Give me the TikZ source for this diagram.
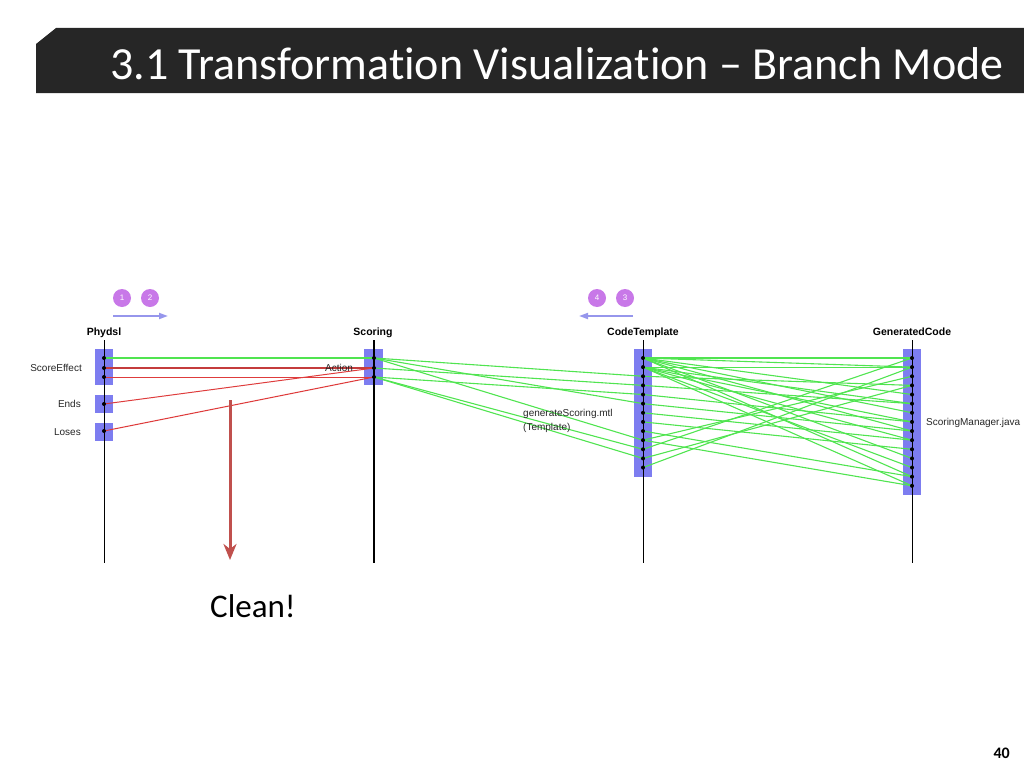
\documentclass[tikz,border=0pt]{standalone}
\usepackage{fontspec}
\setmainfont{Carlito}[Ligatures=NoCommon]
\newfontfamily\arialf{Liberation Sans}
\usetikzlibrary{arrows.meta}
\definecolor{barc}{RGB}{38,38,38}
\definecolor{boxc}{RGB}{125,125,240}
\definecolor{greenc}{RGB}{80,228,80}
\definecolor{redc}{RGB}{222,60,60}
\definecolor{darkred}{RGB}{196,60,60}
\definecolor{violetc}{RGB}{200,120,232}
\definecolor{lavc}{RGB}{150,150,236}
\definecolor{bigred}{RGB}{192,80,77}
\pgfdeclarelayer{boxes}
\pgfdeclarelayer{lines}
\pgfsetlayers{boxes,lines,main}
\tikzset{
  dot/.style={circle,fill=black,inner sep=0pt,minimum size=4pt},
  lanebox/.style={fill=boxc,draw=none,inner sep=0pt},
  axis/.style={draw=black,line width=0.9pt},
  gline/.style={draw=greenc,line width=1.1pt},
  rline/.style={draw=redc,line width=1pt},
  lab/.style={font=\arialf\fontsize{10}{12}\selectfont,inner sep=0pt,text=black!85},
  head/.style={font=\arialf\bfseries\fontsize{10.5}{12}\selectfont,inner sep=0pt,anchor=base},
  step circle/.style={circle,fill=violetc,minimum size=18pt,inner sep=0pt,text=white,font=\arialf\fontsize{8}{9}\selectfont},
  dirarrow/.style={draw=lavc,line width=1.8pt,-{Triangle[length=9pt,width=6pt]}}
}
\begin{document}
\begin{tikzpicture}[x=1pt,y=-1pt]
\useasboundingbox (0,0) rectangle (1024,768);
% title bar
\fill[barc] (56,28) -- (1024,28) -- (1024,93) -- (36,93) -- (36,44) -- cycle;
\node[anchor=base west,inner sep=0pt,text=white,font=\fontsize{46}{55}\selectfont] (title) at (110,79) {3.1 Transformation Visualization – Branch Mode};

% headings
\node[head] (hP) at (104,335) {Phydsl};
\node[head] (hS) at (373,335) {Scoring};
\node[head] (hC) at (643,335) {CodeTemplate};
\node[head] (hG) at (912,335) {GeneratedCode};

% step circles
\node[step circle] (n1) at (122,298) {1};
\node[step circle] (n2) at (150,298) {2};
\node[step circle] (n4) at (597,298) {4};
\node[step circle] (n3) at (625,298) {3};
\coordinate (a1s) at (113,316); \coordinate (a1e) at (168,316);
\coordinate (a2s) at (633,316); \coordinate (a2e) at (579,316);
\draw[dirarrow] (a1s) -- (a1e);
\draw[dirarrow] (a2s) -- (a2e);

% boxes
\begin{pgfonlayer}{boxes}
\node[lanebox,minimum width=18pt,minimum height=36pt] (bP) at (104,367) {};
\node[lanebox,minimum width=18pt,minimum height=18pt] (bE) at (104,404) {};
\node[lanebox,minimum width=18pt,minimum height=18pt] (bL) at (104,432) {};
\node[lanebox,minimum width=19pt,minimum height=36pt] (bS) at (373.5,367) {};
\node[lanebox,minimum width=18pt,minimum height=128pt] (bC) at (643,413) {};
\node[lanebox,minimum width=18pt,minimum height=146pt] (bG) at (912,422) {};
\end{pgfonlayer}

% axes
\coordinate (xPt) at (104,340); \coordinate (xPb) at (104,563);
\coordinate (xSt) at (374,340); \coordinate (xSb) at (374,563);
\coordinate (xCt) at (643,340); \coordinate (xCb) at (643,563);
\coordinate (xGt) at (912,340); \coordinate (xGb) at (912,563);
\begin{pgfonlayer}{lines}
\draw[axis] (xPt) -- (xPb);
\draw[axis,line width=1.3pt] (xSt) -- (xSb);
\draw[axis] (xCt) -- (xCb);
\draw[axis] (xGt) -- (xGb);
\end{pgfonlayer}

% dots
\node[dot] (p1) at (104,358) {};
\node[dot] (p2) at (104,368) {};
\node[dot] (p3) at (104,377) {};
\node[dot] (pe) at (104,404) {};
\node[dot] (pl) at (104,431) {};
\node[dot] (s1) at (374,358) {};
\node[dot] (s2) at (374,368) {};
\node[dot] (s3) at (374,377) {};
\foreach \i in {1,...,13} \node[dot] (c\i) at (643,{358+(\i-1)*9.13}) {};
\foreach \i in {1,...,15} \node[dot] (g\i) at (912,{358+(\i-1)*9.13}) {};

% labels
\node[lab,anchor=east] (lSE) at (82,368) {ScoreEffect};
\node[lab,anchor=east] (lE) at (81,404) {Ends};
\node[lab,anchor=east] (lL) at (81,432) {Loses};
\node[lab,anchor=west] (lA) at (325,368) {Action};
\node[lab,anchor=west] (lT1) at (523,414) {generateScoring.mtl};
\node[lab,anchor=west] (lT2) at (523,428) {(Template)};
\node[lab,anchor=west] (lJ) at (926,423) {ScoringManager.java};

% connectors
\begin{pgfonlayer}{lines}
\draw[gline] (p1.center) -- (s1.center);
\draw[draw=darkred,line width=1.7pt] (p2.center) -- (s2.center);
\draw[rline] (p3.center) -- (s3.center);
\draw[rline] (pe.center) -- (s2.center);
\draw[rline] (pl.center) -- (s3.center);
\foreach \a/\b in {1/3,2/4,1/6,3/5,1/10,3/11,3/12}
  \draw[gline] (s\a.center) -- (c\b.center);
\foreach \a/\b in {1/1,2/2,1/2,1/5,1/7,1/9,1/12,1/14,2/6,2/8,2/10,2/13,2/15,
                   3/4,4/6,5/8,6/9,7/10,8/11,9/14,10/15,
                   10/3,11/1,12/4,13/2}
  \draw[gline] (c\a.center) -- (g\b.center);
\end{pgfonlayer}

% clean arrow
\coordinate (ra) at (230,400);
\coordinate (rb) at (230,560);
\draw[draw=bigred,line width=3pt,-{Stealth[length=16pt,width=13pt,inset=5pt]}] (ra) -- (rb);
\node[anchor=base west,inner sep=0pt,font=\fontsize{33}{40}\selectfont] (clean) at (210,617) {Clean!};

% page number
\node[anchor=base east,inner sep=0pt,font=\bfseries\fontsize{16}{19}\selectfont] (pg) at (1010,758) {40};
\end{tikzpicture}
\end{document}
